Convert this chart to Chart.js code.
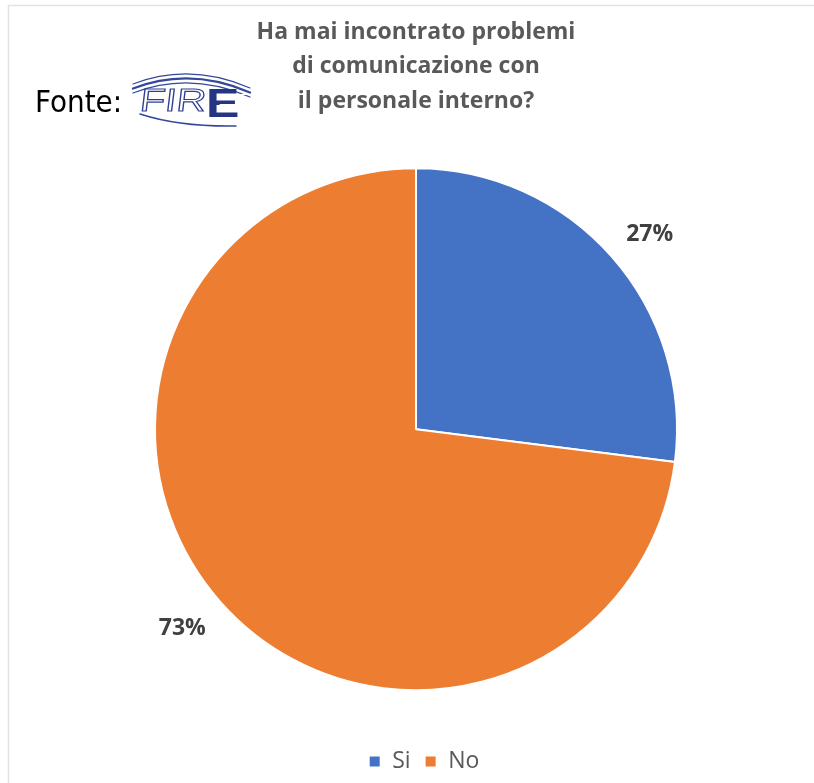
<!DOCTYPE html>
<html lang="it">
<head>
<meta charset="utf-8">
<title>Problemi di comunicazione con il personale interno</title>
<script src="https://cdn.jsdelivr.net/npm/chart.js@4/dist/chart.umd.min.js"></script>
<style>
  html, body { margin: 0; padding: 0; background: #ffffff; }
  #wrap { position: absolute; left: 0; top: 0; width: 814px; height: 783px; }
</style>
</head>
<body>
<div id="wrap"><canvas id="chart" width="814" height="783"></canvas></div>
<script>
// Survey answers
const categories = ['Si', 'No'];
const shares = [27, 73];
const sliceColors = ['#4472C4', '#ED7D31'];
const titleLines = ['Ha mai incontrato problemi', 'di comunicazione con', 'il personale interno?'];
const sourceLabel = 'Fonte:';

const FONT = '"Open Sans", "Noto Sans", sans-serif';

// Frame lines of the chart box
const framePlugin = {
  id: 'frame',
  beforeDraw(chart) {
    const ctx = chart.ctx;
    ctx.save();
    ctx.strokeStyle = '#e2e2e2';
    ctx.lineWidth = 1.5;
    ctx.beginPath();
    ctx.moveTo(8.5, 783);
    ctx.lineTo(8.5, 5.5);
    ctx.lineTo(814, 5.5);
    ctx.stroke();
    ctx.restore();
  }
};

// Nudge the legend row a little to the right of the plot's centre line
const legendShift = {
  id: 'legendShift',
  afterLayout(chart) {
    if (chart.legend) {
      chart.legend.left += 8;
      chart.legend.right += 8;
    }
  }
};

// Percentage labels placed just outside each slice: the label box's
// near edge sits a fixed gap beyond the rim, along the slice's mid angle
const outsideLabels = {
  id: 'outsideLabels',
  afterDatasetsDraw(chart) {
    const ctx = chart.ctx;
    const meta = chart.getDatasetMeta(0);
    ctx.save();
    ctx.font = 'bold 23px ' + FONT;
    ctx.fillStyle = '#404040';
    ctx.textAlign = 'center';
    ctx.textBaseline = 'middle';
    meta.data.forEach((arc, i) => {
      const p = arc.getProps(['x', 'y', 'startAngle', 'endAngle', 'outerRadius'], true);
      const text = shares[i] + '%';
      const w = ctx.measureText(text).width;
      const h = 20;
      const mid = (p.startAngle + p.endAngle) / 2;
      const c = Math.cos(mid), s = Math.sin(mid);
      const r = p.outerRadius + 27;
      const x = p.x + c * r + c * w / 2;
      const y = p.y + s * r + s * h / 2 + 2;
      ctx.fillText(text, x, y);
    });
    ctx.restore();
  }
};

// Source credit with the FIRE mark
const sourcePlugin = {
  id: 'source',
  afterDraw(chart) {
    const ctx = chart.ctx;
    ctx.save();
    ctx.fillStyle = '#000000';
    ctx.font = '31px "Liberation Sans Narrow", "DejaVu Sans Condensed", sans-serif';
    ctx.textBaseline = 'alphabetic';
    ctx.textAlign = 'left';
    ctx.fillText(sourceLabel, 35, 112);

    // arcs above the letters
    ctx.strokeStyle = '#34479a';
    ctx.lineCap = 'round';
    [[73, 1.2], [77.5, 2.4], [82, 1.3]].forEach(([y, w]) => {
      ctx.lineWidth = w;
      ctx.beginPath();
      ctx.moveTo(133, y + 11);
      ctx.quadraticCurveTo(190, y - 11, 250, y + 15);
      ctx.stroke();
    });
    // arc below the letters
    ctx.lineWidth = 1.5;
    ctx.beginPath();
    ctx.moveTo(140, 114);
    ctx.quadraticCurveTo(180, 127, 236, 126);
    ctx.stroke();

    // outlined letters F I R, stretched wide
    ctx.font = '32px "Liberation Sans", Arial, sans-serif';
    ctx.lineWidth = 1.1;
    ctx.strokeStyle = '#2f3f92';
    ctx.setTransform(1.28, 0, -0.12, 1, 0, 0);
    ctx.strokeText('FIR', (139 + 0.12 * 111) / 1.28, 111);
    ctx.setTransform(1, 0, 0, 1, 0, 0);

    // solid striped E
    ctx.fillStyle = '#233583';
    ctx.font = 'bold 40px "Liberation Sans", Arial, sans-serif';
    ctx.setTransform(1.25, 0, 0, 1, 0, 0);
    ctx.fillText('E', 206 / 1.25, 117);
    ctx.setTransform(1, 0, 0, 1, 0, 0);
    ctx.strokeStyle = '#ffffff';
    ctx.lineWidth = 1;
    [94.5, 99.5, 104.5, 109.5].forEach(y => {
      ctx.beginPath();
      ctx.moveTo(220, y);
      ctx.lineTo(248, y);
      ctx.stroke();
    });
    ctx.restore();
  }
};

new Chart(document.getElementById('chart'), {
  type: 'pie',
  data: {
    labels: categories,
    datasets: [{
      data: shares,
      backgroundColor: sliceColors,
      borderColor: '#ffffff',
      borderWidth: 2,
      hoverOffset: 0
    }]
  },
  options: {
    responsive: false,
    animation: false,
    radius: 261,
    layout: { padding: { left: 18, right: 0, top: 0, bottom: 0 } },
    plugins: {
      title: {
        display: true,
        text: titleLines,
        color: '#595959',
        font: { family: FONT, size: 23, weight: 'bold', lineHeight: 1.5 },
        padding: { top: 15, bottom: 4 }
      },
      legend: {
        position: 'bottom',
        labels: {
          color: '#595959',
          font: { family: FONT, size: 23 },
          boxWidth: 12,
          boxHeight: 12,
          padding: 14
        }
      },
      tooltip: { enabled: false }
    }
  },
  plugins: [framePlugin, legendShift, outsideLabels, sourcePlugin]
});
</script>
</body>
</html>
